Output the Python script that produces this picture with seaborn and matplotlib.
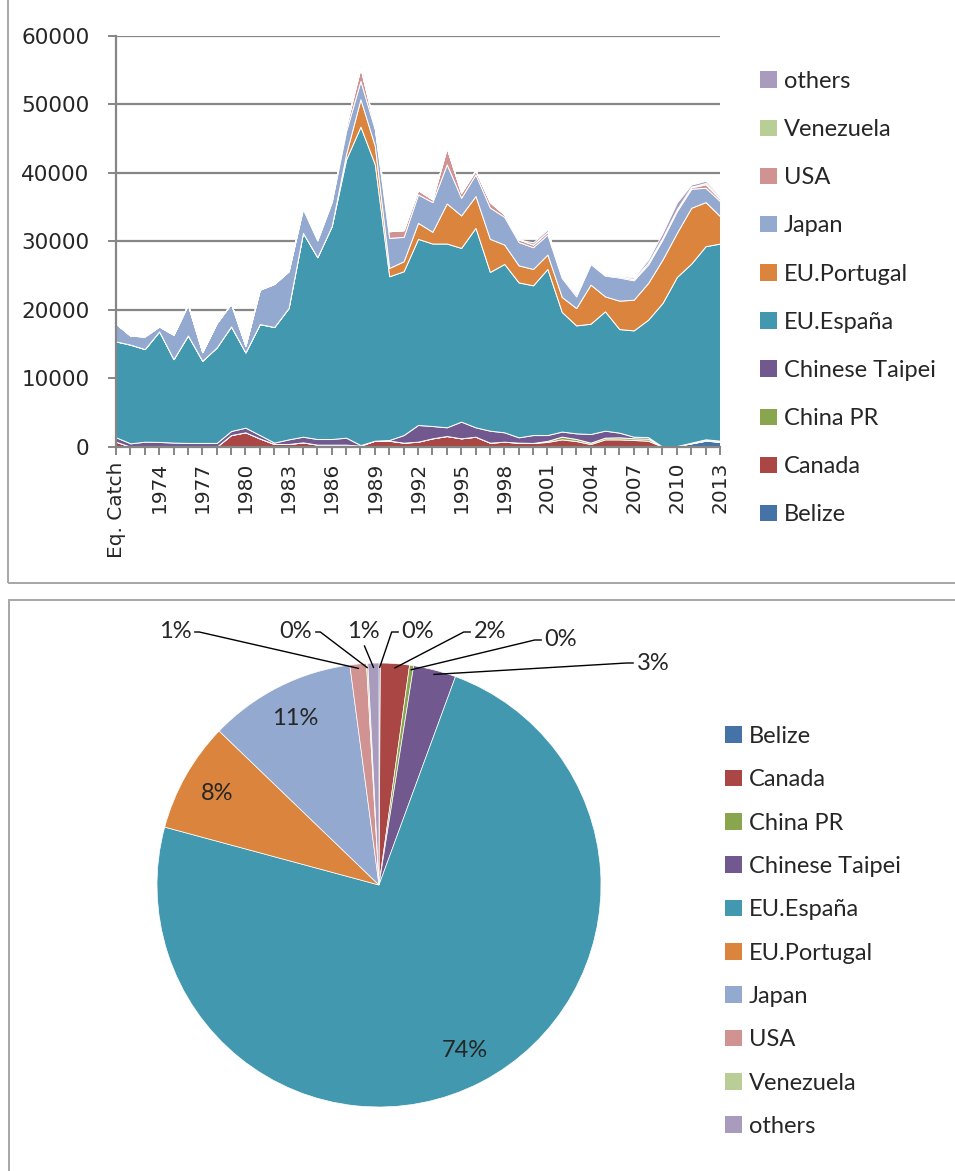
import numpy as np
import pandas as pd
import matplotlib
matplotlib.use("Agg")
import matplotlib.pyplot as plt
import seaborn as sns
from matplotlib.patches import Rectangle, Patch

# ---------------- data ----------------
categories = ["Eq. Catch"] + [str(y) for y in range(1972, 2014)]

series_names = ["Belize", "Canada", "China PR", "Chinese Taipei", "EU.España",
                "EU.Portugal", "Japan", "USA", "Venezuela", "others"]

belize = [0] * 39 + [100, 490, 880, 730]
canada = [730, 0, 0, 0, 0, 0, 0, 0,
          1700, 2100, 1200, 400, 400, 630, 300, 300, 300, 150,
          880, 880, 590, 730, 1220, 1560, 1220, 1460, 590, 730,
          590, 550, 700, 1070, 830, 390, 1070, 1070, 980, 880,
          0, 0, 0, 0, 0]
china_pr = [0] * 30 + [150, 400, 300, 200, 250, 300, 250, 300, 0, 0, 100, 200, 150]
chinese_taipei = [640, 490, 730, 700, 600, 550, 550, 550,
                  590, 680, 500, 200, 670, 830, 820, 820, 1020, 90,
                  0, 100, 1110, 2440, 1800, 1270, 2440, 1370, 1750, 1370,
                  780, 1150, 850, 740, 820, 1260, 1020, 680, 230, 220,
                  0, 0, 0, 0, 0]
eu_espana = [14000, 14410, 13520, 16130, 12180, 15690, 11990, 13940,
             15270, 10980, 16200, 16870, 19170, 29760, 26540, 31080, 40630, 46490,
             40340, 23900, 23910, 27170, 26640, 26830, 25360, 29120, 23170, 24580,
             22610, 21860, 24250, 17460, 15760, 16100, 17420, 15120, 15520, 17140,
             20980, 24680, 26140, 28190, 28780]
eu_portugal = [0] * 16 + [800, 4000,
                          2680, 1220, 1460, 2340, 1710, 5850, 4740, 4640, 4830, 2830,
                          2490, 2390, 2100, 2190, 2530, 5710, 2190, 4150, 4480, 5360,
                          6340, 6440, 8150, 6440, 4000]
japan = [2580, 1300, 1850, 730, 3560, 4490, 1260, 3560,
         3320, 970, 5030, 6300, 5370, 3480, 2440, 3500, 3350, 2670,
         2440, 4390, 3560, 4150, 4340, 5710, 2580, 3170, 4570, 4050,
         3410, 3170, 2930, 2780, 1710, 3020, 3030, 3380, 2830, 2690,
         2920, 3170, 2780, 2090, 2190]
usa = [0] * 13 + [200, 150, 200, 700, 1900,
                  250, 970, 980, 630, 400, 2400, 730, 580, 800, 340,
                  390, 400, 400, 250, 300, 100, 140, 180, 200, 300,
                  300, 300, 200, 500, 300]
venezuela = [0] * 40 + [100, 200, 200]
others = [0] * 17 + [300] + [0] * 11 + [300, 330, 200, 250, 150, 150, 150, 200, 430,
                                         680, 950, 300, 300, 240]

# pie shares (%)
pie_shares = [0.1, 2.1, 0.3, 3.1, 73.6, 8.0, 10.7, 1.2, 0.1, 0.8]

colors = ["#4572A7", "#AA4643", "#89A54E", "#71588F", "#4198AF",
          "#DB843D", "#93A9CF", "#D19392", "#B9CD96", "#A99BBD"]

# ---------------- style ----------------
sns.set_style("white")
plt.rcParams['font.family'] = ['DejaVu Sans']
palette = sns.color_palette(colors)

W, H = 955, 1171
fig = plt.figure(figsize=(W / 100, H / 100), dpi=100)

def fx(px):
    return px / W

def fy(py):
    return 1 - py / H

grid_col = "#868686"
frame_col = "#A6A6A6"
lato = ['Lato', 'DejaVu Sans']
lab_size = 17

# ---------------- top: stacked area ----------------
ax = fig.add_axes([fx(116), fy(446.7), fx(720) - fx(116), (446.7 - 35.7) / H])
x = np.arange(len(categories))
stack = [belize, canada, china_pr, chinese_taipei, eu_espana,
         eu_portugal, japan, usa, venezuela, others]
ax.stackplot(x, *stack, colors=palette, edgecolor="white", linewidth=0.7, zorder=2)
ax.set_xlim(0, len(categories) - 1)
ax.set_ylim(0, 60000)
ax.set_yticks(np.arange(0, 60001, 10000))
ax.yaxis.grid(True, color=grid_col, linewidth=1.6, zorder=0)
ax.set_axisbelow(True)
for s in ["top", "right"]:
    ax.spines[s].set_visible(False)
for s in ["left", "bottom"]:
    ax.spines[s].set_color(grid_col)
    ax.spines[s].set_linewidth(1.6)
    ax.spines[s].set_zorder(3)
ax.set_xticks(x)
ax.set_xticklabels([c if i % 3 == 0 else "" for i, c in enumerate(categories)],
                   rotation=90, fontsize=14.5)
ax.tick_params(axis="x", length=6, width=1.4, color=grid_col, pad=5, bottom=True)
ax.tick_params(axis="y", length=6, width=1.4, color=grid_col, pad=13, labelsize=15.5, left=True)
for lab in ax.get_xticklabels():
    lab.set_va("top")

handles = [Patch(facecolor=c, edgecolor="none") for c in colors]
leg1 = fig.legend(handles[::-1], series_names[::-1], loc="upper left",
                  bbox_to_anchor=(fx(760), fy(71)), bbox_transform=fig.transFigure,
                  frameon=False, prop={'family': lato, 'size': lab_size},
                  handlelength=0.7, handleheight=0.7, handletextpad=0.3,
                  labelspacing=1.15, borderpad=0, borderaxespad=0)

# ---------------- bottom: pie ----------------
R = 222.0
half = 240.0
cx, cy = 379, 885
pax = fig.add_axes([fx(cx - half), fy(cy + half), 2 * half / W, 2 * half / H])
wedges, _ = pax.pie(pie_shares, colors=palette, startangle=90, counterclock=False,
                    radius=1.0, wedgeprops=dict(edgecolor="white", linewidth=0.5))
lim = half / R
pax.set_xlim(-lim, lim)
pax.set_ylim(-lim, lim)
pax.set_aspect("equal")
pax.axis("off")

total = sum(pie_shares)
pct_labels = [f"{round(v / total * 100):.0f}%" for v in pie_shares]

# label layout (pixel positions of outside labels, inside label radius)
outside_pos = {0: (418, 632), 1: (490, 632), 2: (561, 640), 3: (653, 663),
               7: (175, 632), 8: (296, 632), 9: (363, 632)}
inside_r = 0.84

for i, w in enumerate(wedges):
    mid = np.deg2rad((w.theta1 + w.theta2) / 2)
    if i in outside_pos:
        px, py = outside_pos[i]
        tx, ty = (px - cx) / R, (cy - py) / R
        ax_pt = (0.98 * np.cos(mid), 0.98 * np.sin(mid))
        if i == 9:
            rel, cs = (0.5, 0.0), "arc3,rad=0"
        elif i in (7, 8):
            rel, cs = (1.0, 0.5), "arc,angleA=0,armA=8,angleB=0,armB=0,rad=0"
        else:
            rel, cs = (0.0, 0.5), "arc,angleA=180,armA=10,angleB=0,armB=0,rad=0"
        pax.annotate(pct_labels[i], xy=ax_pt, xytext=(tx, ty), textcoords="data",
                     ha="center", va="center", fontsize=lab_size, family=lato,
                     arrowprops=dict(arrowstyle="-", color="black", lw=1.0,
                                     shrinkA=0, shrinkB=0, relpos=rel,
                                     connectionstyle=cs),
                     annotation_clip=False)
    else:
        pax.text(inside_r * np.cos(mid), inside_r * np.sin(mid), pct_labels[i],
                 ha="center", va="center", fontsize=lab_size, family=lato)

leg2 = fig.legend(handles, series_names, loc="upper left",
                  bbox_to_anchor=(fx(725), fy(726)), bbox_transform=fig.transFigure,
                  frameon=False, prop={'family': lato, 'size': lab_size},
                  handlelength=0.72, handleheight=0.72, handletextpad=0.3,
                  labelspacing=0.945, borderpad=0, borderaxespad=0)

# ---------------- panel frames ----------------
fig.add_artist(Rectangle((fx(7.5), fy(582.5)), 1.2, 0.6, transform=fig.transFigure,
                         fill=False, edgecolor=frame_col, linewidth=1.4))
fig.add_artist(Rectangle((fx(8.5), -0.2), 1.2, fy(599.5) + 0.2, transform=fig.transFigure,
                         fill=False, edgecolor=frame_col, linewidth=1.4))

fig.savefig("out.png", dpi=100, facecolor="white")
